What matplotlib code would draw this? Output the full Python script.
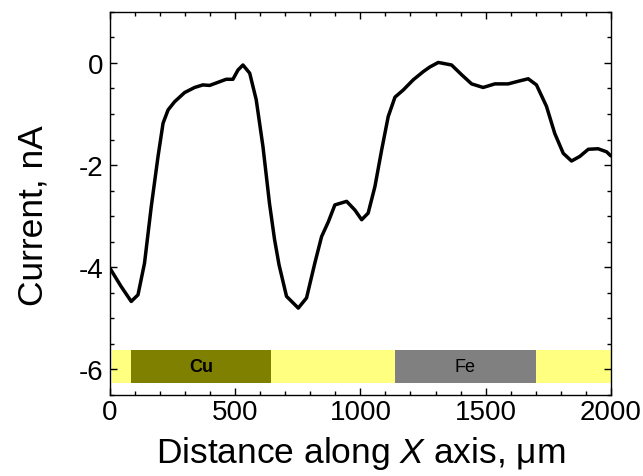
import matplotlib
matplotlib.use("Agg")
import matplotlib.pyplot as plt
from matplotlib.ticker import MultipleLocator

plt.rcParams['font.family'] = ['Liberation Sans', 'DejaVu Sans']
plt.rcParams['mathtext.fontset'] = 'custom'
plt.rcParams['mathtext.rm'] = 'Liberation Sans'
plt.rcParams['mathtext.it'] = 'Liberation Sans:italic'
plt.rcParams['axes.unicode_minus'] = False

distance_um = [0, 45, 85, 112, 138, 165, 192, 212, 232, 258, 298, 338, 371, 398, 431,
               464, 491, 511, 531, 558, 584, 611, 637, 657, 675, 705, 752, 785, 818,
               845, 872, 898, 945, 978, 1005, 1031, 1058, 1085, 1111, 1138, 1171, 1211,
               1251, 1277, 1311, 1364, 1404, 1444, 1490, 1537, 1590, 1637, 1670, 1703,
               1743, 1776, 1810, 1843, 1876, 1910, 1949, 1983, 2000]
current_nA = [-4.02, -4.38, -4.67, -4.54, -3.92, -2.81, -1.83, -1.18, -0.92, -0.76, -0.58,
              -0.48, -0.43, -0.44, -0.38, -0.32, -0.32, -0.14, -0.04, -0.20, -0.72, -1.64,
              -2.75, -3.45, -3.95, -4.57, -4.80, -4.60, -3.92, -3.40, -3.11, -2.78, -2.71,
              -2.88, -3.07, -2.94, -2.42, -1.70, -1.05, -0.67, -0.53, -0.33, -0.17, -0.08,
              0.01, -0.04, -0.23, -0.41, -0.48, -0.41, -0.41, -0.35, -0.31, -0.43, -0.85,
              -1.38, -1.77, -1.92, -1.83, -1.69, -1.68, -1.74, -1.82]

band_starts = [7, 84, 645, 1138, 1700]
band_ends = [84, 645, 1138, 1700, 2000]
band_colors = ['#FFFF80', '#808000', '#FFFF80', '#808080', '#FFFF80']
band_labels = ['', 'Cu', '', 'Fe', '']
band_weights = ['normal', 'bold', 'normal', 'normal', 'normal']
band_bottom, band_top = -6.27, -5.63

fig = plt.figure(figsize=(6.43, 4.77), dpi=100)
ax = fig.add_axes([0.171, 0.170, 0.779, 0.803])

for s, e, c, lab, w in zip(band_starts, band_ends, band_colors, band_labels, band_weights):
    ax.fill_between([s, e], band_bottom, band_top, color=c, linewidth=0, zorder=1)
    if lab:
        ax.text((s + e) / 2, (band_bottom + band_top) / 2, lab, ha='center', va='center',
                fontsize=13, fontweight=w, color='black', zorder=2)

ax.plot(distance_um, current_nA, color='black', linewidth=2.5, zorder=3,
        solid_joinstyle='round', solid_capstyle='round')

ax.set_xlim(0, 2000)
ax.set_ylim(-6.5, 1)
ax.xaxis.set_major_locator(MultipleLocator(500))
ax.xaxis.set_minor_locator(MultipleLocator(100))
ax.yaxis.set_major_locator(MultipleLocator(2))
ax.yaxis.set_minor_locator(MultipleLocator(0.5))
ax.tick_params(which='both', direction='in', top=True, right=True, width=1.0)
ax.tick_params(which='major', length=5, labelsize=20)
ax.tick_params(which='minor', length=3)
ax.tick_params(axis='x', pad=3)
ax.tick_params(axis='y', pad=5)
for sp in ax.spines.values():
    sp.set_linewidth(1.0)

ax.set_xlabel('Distance along $\\it{X}$ axis, μm', fontsize=25.5)
ax.set_ylabel('Current, nA', fontsize=25.5)
ax.xaxis.set_label_coords(0.5, -0.102)
ax.yaxis.set_label_coords(-0.12, 0.47)

fig.savefig('out.png', dpi=100)
